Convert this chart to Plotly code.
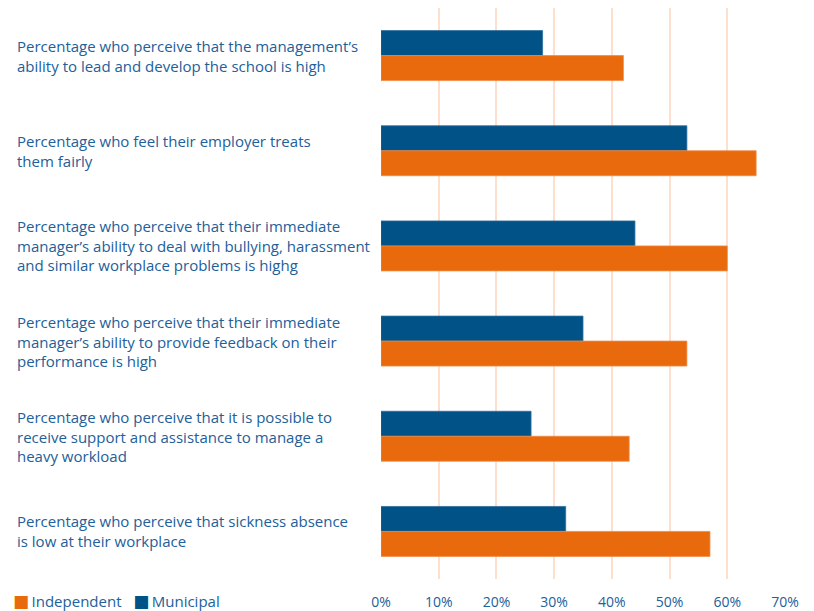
import plotly.graph_objects as go

categories = [
    "Percentage who perceive that the management’s<br>ability to lead and develop the school is high",
    "Percentage who feel their employer treats<br>them fairly",
    "Percentage who perceive that their immediate<br>manager’s ability to deal with bullying, harassment<br>and similar workplace problems is highg",
    "Percentage who perceive that their immediate<br>manager’s ability to provide feedback on their<br>performance is high",
    "Percentage who perceive that it is possible to<br>receive support and assistance to manage a<br>heavy workload",
    "Percentage who perceive that sickness absence<br>is low at their workplace",
]
municipal = [28, 53, 44, 35, 26, 32]
independent = [42, 65, 60, 53, 43, 57]
x_ticks = [0, 10, 20, 30, 40, 50, 60, 70]
x_tick_labels = ["0%", "10%", "20%", "30%", "40%", "50%", "60%", "70%"]

BLUE = "#005287"
ORANGE = "#E96A0C"
TEXT = "#22609A"
GRID = "#FCE0CD"
FONT = "Open Sans"

W, H = 814, 611
ML, MR, MT, MB = 381, 29, 8, 32
plot_w = W - ML - MR

fig = go.Figure()
fig.add_trace(go.Bar(
    y=categories, x=municipal, orientation="h", name="Municipal",
    marker=dict(color=BLUE, line=dict(color="#2F6E9C", width=0.8)),
    hoverinfo="x+name",
))
fig.add_trace(go.Bar(
    y=categories, x=independent, orientation="h", name="Independent",
    marker=dict(color=ORANGE, line=dict(color="#F08A45", width=0.8)),
    hoverinfo="x+name",
))

# left-aligned category captions
for c in categories:
    fig.add_annotation(
        x=(15 - ML) / plot_w, xref="paper", xanchor="left",
        y=c, yref="y", yanchor="middle",
        text=c, align="left", showarrow=False,
        font=dict(family=FONT, size=15, color=TEXT),
    )

# compact legend in the bottom-left corner
NB = "\u00a0"
TS = "\u2009"
swatch = "<span style='color:{};font-size:17px;font-family:DejaVu Sans'>■</span>"
legend_text = (
    swatch.format(ORANGE) + TS + "Independent" + NB * 3
    + swatch.format(BLUE) + TS + "Municipal"
)
fig.add_annotation(
    x=(11 - ML) / plot_w, xref="paper", xanchor="left",
    y=0, yref="paper", yanchor="top", yshift=-10,
    text=legend_text, showarrow=False, align="left",
    font=dict(family=FONT, size=15, color=TEXT),
)

fig.update_layout(
    width=W, height=H,
    margin=dict(l=ML, r=MR, t=MT, b=MB, autoexpand=False),
    paper_bgcolor="white", plot_bgcolor="white",
    barmode="group", bargap=0.475, bargroupgap=0,
    font=dict(family=FONT, size=14, color=TEXT),
    showlegend=False,
    xaxis=dict(
        range=[0, 70], tickvals=x_ticks, ticktext=x_tick_labels,
        showgrid=True, gridcolor=GRID, gridwidth=1.5,
        zeroline=False, showline=False, ticks="",
        ticklabelstandoff=13,
        tickfont=dict(family=FONT, size=14, color=TEXT),
        fixedrange=True,
    ),
    yaxis=dict(
        autorange="reversed", showticklabels=False, showgrid=False,
        zeroline=False, showline=False, ticks="", fixedrange=True,
    ),
)

fig.write_html("out.html")
